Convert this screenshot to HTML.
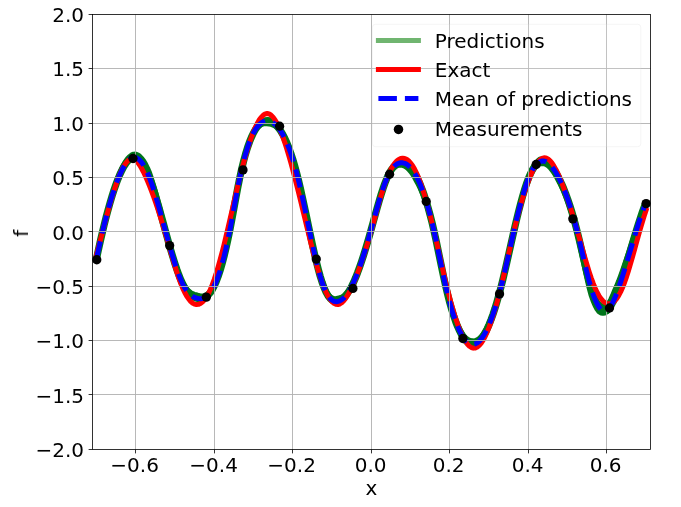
<!DOCTYPE html>
<html><head><meta charset="utf-8"><title>plot</title>
<style>
html,body{margin:0;padding:0;background:#fff;}
body{width:681px;height:507px;overflow:hidden;position:relative;}
svg{position:absolute;left:0;top:0;display:block;}
text{font-family:"DejaVu Sans","Liberation Sans",sans-serif;font-size:20px;fill:#000;}
</style></head><body>
<svg width="681" height="507" viewBox="0 0 681 507">
<rect width="681" height="507" fill="#fff"/>
<defs><clipPath id="ax"><rect x="92.5" y="14.5" width="558.0" height="435.0"/></clipPath><clipPath id="mk"><rect x="92.1" y="14.1" width="558.8" height="435.8"/></clipPath></defs>
<g clip-path="url(#ax)" fill="none" stroke-linejoin="round">
<path d="M96.36,259.41 L98.32,250.19 L100.29,241.29 L102.25,232.73 L104.21,224.53 L106.18,216.70 L108.14,209.26 L110.10,202.22 L112.07,195.61 L114.03,189.25 L116.00,183.34 L117.96,177.90 L119.92,172.96 L121.89,168.53 L123.85,164.64 L125.81,161.32 L127.78,158.59 L129.74,156.49 L131.70,155.04 L133.67,154.26 L135.63,154.20 L137.59,154.86 L139.56,156.20 L141.52,158.22 L143.48,160.88 L145.45,164.19 L147.41,168.11 L149.37,172.63 L151.34,178.45 L153.30,184.78 L155.27,191.54 L157.23,198.64 L159.19,206.02 L161.16,213.58 L163.12,221.24 L165.08,228.94 L167.05,236.20 L169.01,243.17 L170.97,249.95 L172.94,256.48 L174.90,262.69 L176.86,268.51 L178.83,273.88 L180.79,278.73 L182.75,282.98 L184.72,286.33 L186.68,289.01 L188.64,291.10 L190.61,292.66 L192.57,293.76 L194.54,294.47 L196.50,294.87 L198.46,295.61 L200.43,296.05 L202.39,296.12 L204.35,295.77 L206.32,294.94 L208.28,293.57 L210.24,291.61 L212.21,289.00 L214.17,285.68 L216.13,281.31 L218.10,276.19 L220.06,270.30 L222.02,263.67 L223.99,256.28 L225.95,248.15 L227.91,239.27 L229.88,229.65 L231.84,219.39 L233.81,208.77 L235.77,198.11 L237.73,187.72 L239.70,177.94 L241.66,169.01 L243.62,160.98 L245.59,153.82 L247.55,147.47 L249.51,141.91 L251.48,137.10 L253.44,133.00 L255.40,129.37 L257.37,126.39 L259.33,124.00 L261.29,122.17 L263.26,120.87 L265.22,120.05 L267.18,119.69 L269.15,119.85 L271.11,120.57 L273.08,121.70 L275.04,123.26 L277.00,125.26 L278.97,127.73 L280.93,130.66 L282.89,134.09 L284.86,138.02 L286.82,142.24 L288.78,146.99 L290.75,152.30 L292.71,158.17 L294.67,164.63 L296.64,171.69 L298.60,179.44 L300.56,187.87 L302.53,196.74 L304.49,205.93 L306.45,215.30 L308.42,224.74 L310.38,234.11 L312.35,243.28 L314.31,252.14 L316.27,260.55 L318.24,268.40 L320.20,275.57 L322.16,281.92 L324.13,287.34 L326.09,291.33 L328.05,294.39 L330.02,296.60 L331.98,298.01 L333.94,298.72 L335.91,298.77 L337.87,298.24 L339.83,297.94 L341.80,297.13 L343.76,295.83 L345.72,294.03 L347.69,291.74 L349.65,288.96 L351.62,285.70 L353.58,281.98 L355.54,277.80 L357.51,272.85 L359.47,267.52 L361.43,261.83 L363.40,255.83 L365.36,249.53 L367.32,242.98 L369.29,236.20 L371.25,229.23 L373.21,222.13 L375.18,215.00 L377.14,207.97 L379.10,201.14 L381.07,194.62 L383.03,188.53 L384.99,182.97 L386.96,178.07 L388.92,173.90 L390.88,170.47 L392.85,167.73 L394.81,165.63 L396.78,164.13 L398.74,163.20 L400.70,162.77 L402.67,162.80 L404.63,163.28 L406.59,164.23 L408.56,165.66 L410.52,167.56 L412.48,169.95 L414.45,172.84 L416.41,176.23 L418.37,180.14 L420.34,184.56 L422.30,189.51 L424.26,195.01 L426.23,201.06 L428.19,207.68 L430.16,214.86 L432.12,222.64 L434.08,231.01 L436.05,239.96 L438.01,249.31 L439.97,258.85 L441.94,268.37 L443.90,277.64 L445.86,286.46 L447.83,294.65 L449.79,302.20 L451.75,308.85 L453.72,314.86 L455.68,320.23 L457.64,324.97 L459.61,329.08 L461.57,332.57 L463.53,335.44 L465.50,337.69 L467.46,339.34 L469.43,340.38 L471.39,340.81 L473.35,340.96 L475.32,340.73 L477.28,339.91 L479.24,338.53 L481.21,336.57 L483.17,334.06 L485.13,331.00 L487.10,327.40 L489.06,323.26 L491.02,318.60 L492.99,313.43 L494.95,307.74 L496.91,301.56 L498.88,294.63 L500.84,287.22 L502.80,279.35 L504.77,271.09 L506.73,262.55 L508.70,253.83 L510.66,245.05 L512.62,236.30 L514.59,227.71 L516.55,219.34 L518.51,211.29 L520.48,203.63 L522.44,196.42 L524.40,189.74 L526.37,183.67 L528.33,178.28 L530.29,173.30 L532.26,169.07 L534.22,165.57 L536.18,162.77 L538.15,160.65 L540.11,159.17 L542.07,159.04 L544.04,159.51 L546.00,160.55 L547.97,162.14 L549.93,164.23 L551.89,166.81 L553.86,169.45 L555.82,172.51 L557.78,175.96 L559.75,179.79 L561.71,183.97 L563.67,188.54 L565.64,193.50 L567.60,198.87 L569.56,204.66 L571.53,210.89 L573.49,217.58 L575.45,224.73 L577.42,232.37 L579.38,240.47 L581.34,248.86 L583.31,257.34 L585.27,265.71 L587.24,273.79 L589.20,281.37 L591.16,288.26 L593.13,294.31 L595.09,299.50 L597.05,302.19 L599.02,303.95 L600.98,305.36 L602.94,306.18 L604.91,306.30 L606.87,305.57 L608.83,303.11 L610.80,299.69 L612.76,295.45 L614.72,290.48 L616.69,286.14 L618.65,281.32 L620.61,276.13 L622.58,270.66 L624.54,264.95 L626.51,259.17 L628.47,253.28 L630.43,247.33 L632.40,241.37 L634.36,235.46 L636.32,229.58 L638.29,223.50 L640.25,217.64 L642.21,212.07 L644.18,206.83 L646.14,201.99" stroke="#00751a" stroke-width="5.2" stroke-linecap="butt"/>
<path d="M96.36,259.41 L98.32,250.25 L100.29,241.40 L102.25,232.90 L104.21,224.75 L106.18,216.97 L108.14,209.58 L110.10,202.60 L112.07,196.05 L114.03,189.93 L116.00,184.27 L117.96,179.08 L119.92,174.39 L121.89,170.21 L123.85,166.57 L125.81,163.49 L127.78,161.02 L129.74,159.16 L131.70,157.95 L133.67,157.42 L135.63,157.60 L137.59,158.49 L139.56,160.06 L141.52,162.30 L143.48,165.20 L145.45,168.73 L147.41,172.88 L149.37,177.63 L151.34,182.96 L153.30,188.79 L155.27,195.05 L157.23,201.65 L159.19,208.53 L161.16,215.59 L163.12,222.76 L165.08,229.96 L167.05,237.12 L169.01,244.15 L170.97,251.00 L172.94,257.59 L174.90,263.86 L176.86,269.75 L178.83,275.18 L180.79,280.09 L182.75,284.41 L184.72,288.08 L186.68,291.09 L188.64,293.50 L190.61,295.38 L192.57,296.81 L194.54,297.85 L196.50,298.56 L198.46,298.98 L200.43,299.09 L202.39,298.83 L204.35,298.15 L206.32,296.99 L208.28,295.30 L210.24,293.01 L212.21,290.06 L214.17,286.42 L216.13,282.01 L218.10,276.85 L220.06,270.93 L222.02,264.25 L223.99,256.83 L225.95,248.66 L227.91,239.75 L229.88,230.09 L231.84,219.79 L233.81,209.13 L235.77,198.44 L237.73,188.02 L239.70,178.19 L241.66,169.23 L243.62,161.17 L245.59,153.96 L247.55,147.58 L249.51,141.98 L251.48,137.13 L253.44,133.00 L255.40,129.95 L257.37,127.53 L259.33,125.72 L261.29,124.46 L263.26,123.73 L265.22,123.49 L267.18,123.70 L269.15,124.01 L271.11,124.26 L273.08,124.93 L275.04,126.03 L277.00,127.56 L278.97,129.56 L280.93,132.03 L282.89,134.99 L284.86,138.46 L286.82,142.80 L288.78,147.69 L290.75,153.13 L292.71,159.14 L294.67,165.73 L296.64,172.92 L298.60,180.72 L300.56,189.09 L302.53,197.91 L304.49,207.04 L306.45,216.36 L308.42,225.74 L310.38,235.05 L312.35,244.17 L314.31,252.97 L316.27,261.32 L318.24,269.12 L320.20,276.22 L322.16,282.52 L324.13,287.88 L326.09,292.26 L328.05,295.71 L330.02,298.31 L331.98,300.11 L333.94,301.20 L335.91,301.64 L337.87,301.50 L339.83,300.84 L341.80,299.67 L343.76,298.00 L345.72,295.84 L347.69,293.19 L349.65,290.05 L351.62,286.43 L353.58,282.34 L355.54,277.80 L357.51,272.85 L359.47,267.52 L361.43,261.83 L363.40,255.83 L365.36,249.53 L367.32,242.98 L369.29,236.20 L371.25,229.23 L373.21,222.13 L375.18,215.00 L377.14,207.97 L379.10,201.14 L381.07,194.62 L383.03,188.53 L384.99,183.22 L386.96,178.55 L388.92,174.63 L390.88,171.44 L392.85,168.94 L394.81,167.09 L396.78,165.83 L398.74,165.14 L400.70,164.96 L402.67,165.26 L404.63,166.02 L406.59,167.25 L408.56,168.96 L410.52,171.15 L412.48,173.83 L414.45,177.00 L416.41,180.67 L418.37,184.36 L420.34,188.36 L422.30,192.88 L424.26,197.95 L426.23,203.58 L428.19,209.76 L430.16,216.52 L432.12,223.87 L434.08,231.81 L436.05,240.76 L438.01,250.11 L439.97,259.65 L441.94,269.17 L443.90,278.44 L445.86,287.26 L447.83,295.45 L449.79,302.99 L451.75,309.89 L453.72,316.14 L455.68,321.76 L457.64,326.75 L459.61,331.10 L461.57,334.84 L463.53,337.95 L465.50,340.45 L467.46,342.34 L469.43,343.62 L471.39,344.30 L473.35,344.41 L475.32,343.94 L477.28,342.89 L479.24,341.27 L481.21,339.08 L483.17,336.33 L485.13,333.04 L487.10,329.20 L489.06,324.83 L491.02,319.93 L492.99,314.52 L494.95,308.60 L496.91,302.19 L498.88,295.28 L500.84,287.88 L502.80,280.02 L504.77,271.78 L506.73,263.25 L508.70,254.55 L510.66,245.78 L512.62,237.05 L514.59,228.47 L516.55,220.12 L518.51,212.09 L520.48,204.44 L522.44,197.24 L524.40,190.58 L526.37,184.52 L528.33,179.15 L530.29,174.76 L532.26,171.13 L534.22,168.22 L536.18,166.01 L538.15,164.47 L540.11,163.59 L542.07,163.32 L544.04,163.57 L546.00,164.32 L547.97,165.61 L549.93,167.42 L551.89,169.70 L553.86,172.45 L555.82,175.62 L557.78,179.18 L559.75,182.93 L561.71,186.91 L563.67,191.27 L565.64,196.03 L567.60,201.19 L569.56,206.78 L571.53,212.80 L573.49,219.28 L575.45,226.23 L577.42,233.73 L579.38,242.68 L581.34,251.92 L583.31,261.25 L585.27,270.48 L587.24,279.41 L589.20,287.84 L591.16,295.16 L593.13,300.66 L595.09,305.28 L597.05,309.00 L599.02,311.59 L600.98,312.92 L602.94,313.24 L604.91,312.87 L606.87,311.68 L608.83,309.43 L610.80,306.41 L612.76,302.61 L614.72,298.09 L616.69,293.21 L618.65,287.85 L620.61,282.12 L622.58,276.09 L624.54,269.84 L626.51,263.41 L628.47,256.86 L630.43,250.25 L632.40,243.64 L634.36,237.07 L636.32,230.62 L638.29,224.33 L640.25,218.27 L642.21,212.49 L644.18,207.04 L646.14,201.99" stroke="#00751a" stroke-width="5.2" stroke-linecap="butt"/>
<path d="M96.36,259.41 L98.32,250.25 L100.29,241.40 L102.25,232.90 L104.21,224.75 L106.18,216.97 L108.14,209.58 L110.10,202.60 L112.07,196.05 L114.03,189.93 L116.00,184.27 L117.96,179.08 L119.92,174.39 L121.89,170.21 L123.85,166.57 L125.81,163.49 L127.78,161.02 L129.74,159.16 L131.70,157.95 L133.67,157.42 L135.63,157.59 L137.59,158.47 L139.56,160.03 L141.52,162.25 L143.48,165.13 L145.45,168.65 L147.41,172.79 L149.37,177.53 L151.34,182.84 L153.30,188.66 L155.27,194.90 L157.23,201.49 L159.19,208.35 L161.16,215.40 L163.12,222.56 L165.08,229.75 L167.05,236.89 L169.01,243.91 L170.97,250.74 L172.94,257.32 L174.90,263.58 L176.86,269.45 L178.83,274.87 L180.79,279.76 L182.75,284.07 L184.72,287.73 L186.68,290.72 L188.64,293.12 L190.61,294.99 L192.57,296.40 L194.54,297.43 L196.50,298.13 L198.46,298.56 L200.43,298.68 L202.39,298.44 L204.35,297.78 L206.32,296.63 L208.28,294.95 L210.24,292.68 L212.21,289.75 L214.17,286.12 L216.13,281.73 L218.10,276.58 L220.06,270.67 L222.02,264.01 L223.99,256.61 L225.95,248.45 L227.91,239.55 L229.88,229.91 L231.84,219.63 L233.81,208.98 L235.77,198.30 L237.73,187.90 L239.70,178.09 L241.66,169.14 L243.62,161.09 L245.59,153.90 L247.55,147.54 L249.51,141.95 L251.48,137.12 L253.44,133.00 L255.40,129.54 L257.37,126.73 L259.33,124.51 L261.29,122.86 L263.26,121.73 L265.22,121.09 L267.18,120.89 L269.15,121.11 L271.11,121.73 L273.08,122.76 L275.04,124.21 L277.00,126.11 L278.97,128.47 L280.93,131.30 L282.89,134.63 L284.86,138.46 L286.82,142.80 L288.78,147.69 L290.75,153.13 L292.71,159.14 L294.67,165.73 L296.64,172.92 L298.60,180.72 L300.56,189.09 L302.53,197.91 L304.49,207.04 L306.45,216.36 L308.42,225.74 L310.38,235.05 L312.35,244.17 L314.31,252.97 L316.27,261.32 L318.24,269.12 L320.20,276.22 L322.16,282.52 L324.13,287.88 L326.09,292.26 L328.05,295.71 L330.02,298.31 L331.98,300.11 L333.94,301.20 L335.91,301.64 L337.87,301.50 L339.83,300.84 L341.80,299.67 L343.76,298.00 L345.72,295.84 L347.69,293.19 L349.65,290.05 L351.62,286.43 L353.58,282.34 L355.54,277.80 L357.51,272.85 L359.47,267.52 L361.43,261.83 L363.40,255.83 L365.36,249.53 L367.32,242.98 L369.29,236.20 L371.25,229.23 L373.21,222.13 L375.18,215.00 L377.14,207.97 L379.10,201.14 L381.07,194.62 L383.03,188.53 L384.99,182.97 L386.96,178.07 L388.92,173.90 L390.88,170.47 L392.85,167.73 L394.81,165.63 L396.78,164.13 L398.74,163.20 L400.70,162.77 L402.67,162.82 L404.63,163.32 L406.59,164.29 L408.56,165.74 L410.52,167.66 L412.48,170.08 L414.45,172.99 L416.41,176.40 L418.37,180.33 L420.34,184.77 L422.30,189.75 L424.26,195.27 L426.23,201.34 L428.19,207.98 L430.16,215.19 L432.12,222.98 L434.08,231.38 L436.05,240.35 L438.01,249.72 L439.97,259.28 L441.94,268.82 L443.90,278.12 L445.86,286.96 L447.83,295.17 L449.79,302.74 L451.75,309.66 L453.72,315.93 L455.68,321.57 L457.64,326.58 L459.61,330.96 L461.57,334.72 L463.53,337.85 L465.50,340.37 L467.46,342.29 L469.43,343.59 L471.39,344.29 L473.35,344.40 L475.32,343.92 L477.28,342.85 L479.24,341.21 L481.21,339.01 L483.17,336.25 L485.13,332.93 L487.10,329.08 L489.06,324.70 L491.02,319.79 L492.99,314.36 L494.95,308.43 L496.91,301.99 L498.88,295.07 L500.84,287.66 L502.80,279.78 L504.77,271.52 L506.73,262.98 L508.70,254.27 L510.66,245.48 L512.62,236.74 L514.59,228.14 L516.55,219.78 L518.51,211.73 L520.48,204.06 L522.44,196.85 L524.40,190.18 L526.37,184.10 L528.33,178.71 L530.29,174.06 L532.26,170.16 L534.22,166.99 L536.18,164.51 L538.15,162.71 L540.11,161.56 L542.07,161.04 L544.04,161.11 L546.00,161.75 L547.97,162.94 L549.93,164.63 L551.89,166.81 L553.86,169.45 L555.82,172.51 L557.78,175.96 L559.75,179.79 L561.71,183.97 L563.67,188.54 L565.64,193.50 L567.60,198.87 L569.56,204.66 L571.53,210.89 L573.49,217.58 L575.45,224.73 L577.42,232.37 L579.38,240.47 L581.34,248.86 L583.31,257.34 L585.27,265.71 L587.24,273.79 L589.20,281.37 L591.16,288.26 L593.13,294.31 L595.09,299.50 L597.05,303.78 L599.02,307.12 L600.98,309.49 L602.94,310.86 L604.91,311.20 L606.87,310.47 L608.83,308.68 L610.80,305.95 L612.76,302.38 L614.72,298.09 L616.69,293.21 L618.65,287.85 L620.61,282.12 L622.58,276.09 L624.54,269.84 L626.51,263.41 L628.47,256.86 L630.43,250.25 L632.40,243.64 L634.36,237.07 L636.32,230.62 L638.29,224.33 L640.25,218.27 L642.21,212.49 L644.18,207.04 L646.14,201.99" stroke="#00751a" stroke-width="7.2" stroke-linecap="butt"/>
<path d="M96.36,255.28 L98.32,247.85 L100.29,240.34 L102.25,232.80 L104.21,225.31 L106.18,217.92 L108.14,210.70 L110.10,203.70 L112.07,196.98 L114.03,190.62 L116.00,184.66 L117.96,179.17 L119.92,174.22 L121.89,169.85 L123.85,166.13 L125.81,163.11 L127.78,160.85 L129.74,159.40 L131.70,158.83 L133.67,159.16 L135.63,160.37 L137.59,162.35 L139.56,165.01 L141.52,168.27 L143.48,172.03 L145.45,176.20 L147.41,180.71 L149.37,185.50 L151.34,190.57 L153.30,195.89 L155.27,201.46 L157.23,207.27 L159.19,213.30 L161.16,219.53 L163.12,225.96 L165.08,232.57 L167.05,239.33 L169.01,246.16 L170.97,252.96 L172.94,259.66 L174.90,266.15 L176.86,272.35 L178.83,278.17 L180.79,283.52 L182.75,288.31 L184.72,292.48 L186.68,296.04 L188.64,298.98 L190.61,301.30 L192.57,303.00 L194.54,304.08 L196.50,304.53 L198.46,304.35 L200.43,303.54 L202.39,302.08 L204.35,299.98 L206.32,297.23 L208.28,293.81 L210.24,289.73 L212.21,284.97 L214.17,279.56 L216.13,273.55 L218.10,267.00 L220.06,259.98 L222.02,252.54 L223.99,244.76 L225.95,236.69 L227.91,228.39 L229.88,219.94 L231.84,211.41 L233.81,202.88 L235.77,194.41 L237.73,186.10 L239.70,178.00 L241.66,170.20 L243.62,162.74 L245.59,155.66 L247.55,148.99 L249.51,142.78 L251.48,137.06 L253.44,131.86 L255.40,127.24 L257.37,123.22 L259.33,119.84 L261.29,117.15 L263.26,115.17 L265.22,113.95 L267.18,113.53 L269.15,113.94 L271.11,115.16 L273.08,117.16 L275.04,119.88 L277.00,123.29 L278.97,127.33 L280.93,131.96 L282.89,137.13 L284.86,142.81 L286.82,148.93 L288.78,155.47 L290.75,162.37 L292.71,169.58 L294.67,177.07 L296.64,184.78 L298.60,192.67 L300.56,200.70 L302.53,208.81 L304.49,216.96 L306.45,225.10 L308.42,233.19 L310.38,241.17 L312.35,248.97 L314.31,256.52 L316.27,263.74 L318.24,270.56 L320.20,276.90 L322.16,282.69 L324.13,287.85 L326.09,292.34 L328.05,296.14 L330.02,299.24 L331.98,301.63 L333.94,303.31 L335.91,304.26 L337.87,304.48 L339.83,303.96 L341.80,302.71 L343.76,300.78 L345.72,298.24 L347.69,295.15 L349.65,291.56 L351.62,287.55 L353.58,283.17 L355.54,278.46 L357.51,273.42 L359.47,268.08 L361.43,262.45 L363.40,256.55 L365.36,250.39 L367.32,243.99 L369.29,237.36 L371.25,230.52 L373.21,223.51 L375.18,216.42 L377.14,209.36 L379.10,202.44 L381.07,195.75 L383.03,189.40 L384.99,183.49 L386.96,178.13 L388.92,173.40 L390.88,169.32 L392.85,165.89 L394.81,163.10 L396.78,160.94 L398.74,159.40 L400.70,158.48 L402.67,158.16 L404.63,158.44 L406.59,159.33 L408.56,160.81 L410.52,162.89 L412.48,165.58 L414.45,168.86 L416.41,172.75 L418.37,177.24 L420.34,182.32 L422.30,187.97 L424.26,194.14 L426.23,200.79 L428.19,207.88 L430.16,215.37 L432.12,223.23 L434.08,231.40 L436.05,239.84 L438.01,248.47 L439.97,257.17 L441.94,265.84 L443.90,274.39 L445.86,282.71 L447.83,290.70 L449.79,298.30 L451.75,305.48 L453.72,312.21 L455.68,318.45 L457.64,324.18 L459.61,329.38 L461.57,334.00 L463.53,338.02 L465.50,341.42 L467.46,344.16 L469.43,346.21 L471.39,347.54 L473.35,348.13 L475.32,347.95 L477.28,347.04 L479.24,345.40 L481.21,343.08 L483.17,340.09 L485.13,336.47 L487.10,332.23 L489.06,327.42 L491.02,322.04 L492.99,316.13 L494.95,309.72 L496.91,302.83 L498.88,295.49 L500.84,287.72 L502.80,279.56 L504.77,271.10 L506.73,262.45 L508.70,253.74 L510.66,245.07 L512.62,236.55 L514.59,228.32 L516.55,220.42 L518.51,212.89 L520.48,205.74 L522.44,199.00 L524.40,192.67 L526.37,186.78 L528.33,181.34 L530.29,176.38 L532.26,171.91 L534.22,167.98 L536.18,164.63 L538.15,161.89 L540.11,159.82 L542.07,158.44 L544.04,157.81 L546.00,157.96 L547.97,158.89 L549.93,160.56 L551.89,162.91 L553.86,165.87 L555.82,169.38 L557.78,173.37 L559.75,177.80 L561.71,182.60 L563.67,187.75 L565.64,193.21 L567.60,198.97 L569.56,204.99 L571.53,211.25 L573.49,217.72 L575.45,224.39 L577.42,231.21 L579.38,238.16 L581.34,245.16 L583.31,252.13 L585.27,258.96 L587.24,265.58 L589.20,271.88 L591.16,277.79 L593.13,283.20 L595.09,288.04 L597.05,292.24 L599.02,295.80 L600.98,298.71 L602.94,300.98 L604.91,302.60 L606.87,303.57 L608.83,303.89 L610.80,303.56 L612.76,302.56 L614.72,300.90 L616.69,298.57 L618.65,295.56 L620.61,291.88 L622.58,287.52 L624.54,282.48 L626.51,276.83 L628.47,270.68 L630.43,264.14 L632.40,257.30 L634.36,250.27 L636.32,243.17 L638.29,236.09 L640.25,229.14 L642.21,222.43 L644.18,216.07 L646.14,210.15" stroke="#ff0000" stroke-width="5" stroke-linecap="square"/>
<path d="M96.36,259.41 L98.32,250.25 L100.29,241.40 L102.25,232.90 L104.21,224.75 L106.18,216.97 L108.14,209.58 L110.10,202.60 L112.07,196.05 L114.03,189.93 L116.00,184.27 L117.96,179.08 L119.92,174.39 L121.89,170.21 L123.85,166.57 L125.81,163.49 L127.78,161.02 L129.74,159.16 L131.70,157.95 L133.67,157.42 L135.63,157.59 L137.59,158.47 L139.56,160.03 L141.52,162.25 L143.48,165.13 L145.45,168.65 L147.41,172.79 L149.37,177.53 L151.34,182.84 L153.30,188.66 L155.27,194.90 L157.23,201.49 L159.19,208.35 L161.16,215.40 L163.12,222.56 L165.08,229.75 L167.05,236.89 L169.01,243.91 L170.97,250.74 L172.94,257.32 L174.90,263.58 L176.86,269.45 L178.83,274.87 L180.79,279.76 L182.75,284.07 L184.72,287.73 L186.68,290.72 L188.64,293.12 L190.61,294.99 L192.57,296.40 L194.54,297.43 L196.50,298.13 L198.46,298.56 L200.43,298.68 L202.39,298.44 L204.35,297.78 L206.32,296.63 L208.28,294.95 L210.24,292.68 L212.21,289.75 L214.17,286.12 L216.13,281.73 L218.10,276.58 L220.06,270.67 L222.02,264.01 L223.99,256.61 L225.95,248.45 L227.91,239.55 L229.88,229.91 L231.84,219.63 L233.81,208.98 L235.77,198.30 L237.73,187.90 L239.70,178.09 L241.66,169.14 L243.62,161.09 L245.59,153.90 L247.55,147.54 L249.51,141.95 L251.48,137.12 L253.44,133.00 L255.40,129.54 L257.37,126.73 L259.33,124.51 L261.29,122.86 L263.26,121.73 L265.22,121.09 L267.18,120.89 L269.15,121.11 L271.11,121.73 L273.08,122.76 L275.04,124.21 L277.00,126.11 L278.97,128.47 L280.93,131.30 L282.89,134.63 L284.86,138.46 L286.82,142.80 L288.78,147.69 L290.75,153.13 L292.71,159.14 L294.67,165.73 L296.64,172.92 L298.60,180.72 L300.56,189.09 L302.53,197.91 L304.49,207.04 L306.45,216.36 L308.42,225.74 L310.38,235.05 L312.35,244.17 L314.31,252.97 L316.27,261.32 L318.24,269.12 L320.20,276.22 L322.16,282.52 L324.13,287.88 L326.09,292.26 L328.05,295.71 L330.02,298.31 L331.98,300.11 L333.94,301.20 L335.91,301.64 L337.87,301.50 L339.83,300.84 L341.80,299.67 L343.76,298.00 L345.72,295.84 L347.69,293.19 L349.65,290.05 L351.62,286.43 L353.58,282.34 L355.54,277.80 L357.51,272.85 L359.47,267.52 L361.43,261.83 L363.40,255.83 L365.36,249.53 L367.32,242.98 L369.29,236.20 L371.25,229.23 L373.21,222.13 L375.18,215.00 L377.14,207.97 L379.10,201.14 L381.07,194.62 L383.03,188.53 L384.99,182.97 L386.96,178.07 L388.92,173.90 L390.88,170.47 L392.85,167.73 L394.81,165.63 L396.78,164.13 L398.74,163.20 L400.70,162.77 L402.67,162.82 L404.63,163.32 L406.59,164.29 L408.56,165.74 L410.52,167.66 L412.48,170.08 L414.45,172.99 L416.41,176.40 L418.37,180.33 L420.34,184.77 L422.30,189.75 L424.26,195.27 L426.23,201.34 L428.19,207.98 L430.16,215.19 L432.12,222.98 L434.08,231.38 L436.05,240.35 L438.01,249.72 L439.97,259.28 L441.94,268.82 L443.90,278.12 L445.86,286.96 L447.83,295.17 L449.79,302.74 L451.75,309.66 L453.72,315.93 L455.68,321.57 L457.64,326.58 L459.61,330.96 L461.57,334.72 L463.53,337.85 L465.50,340.37 L467.46,342.29 L469.43,343.59 L471.39,344.29 L473.35,344.40 L475.32,343.92 L477.28,342.85 L479.24,341.21 L481.21,339.01 L483.17,336.25 L485.13,332.93 L487.10,329.08 L489.06,324.70 L491.02,319.79 L492.99,314.36 L494.95,308.43 L496.91,301.99 L498.88,295.07 L500.84,287.66 L502.80,279.78 L504.77,271.52 L506.73,262.98 L508.70,254.27 L510.66,245.48 L512.62,236.74 L514.59,228.14 L516.55,219.78 L518.51,211.73 L520.48,204.06 L522.44,196.85 L524.40,190.18 L526.37,184.10 L528.33,178.71 L530.29,174.06 L532.26,170.16 L534.22,166.99 L536.18,164.51 L538.15,162.71 L540.11,161.56 L542.07,161.04 L544.04,161.11 L546.00,161.75 L547.97,162.94 L549.93,164.63 L551.89,166.81 L553.86,169.45 L555.82,172.51 L557.78,175.96 L559.75,179.79 L561.71,183.97 L563.67,188.54 L565.64,193.50 L567.60,198.87 L569.56,204.66 L571.53,210.89 L573.49,217.58 L575.45,224.73 L577.42,232.37 L579.38,240.47 L581.34,248.86 L583.31,257.34 L585.27,265.71 L587.24,273.79 L589.20,281.37 L591.16,288.26 L593.13,294.31 L595.09,299.50 L597.05,303.78 L599.02,307.12 L600.98,309.49 L602.94,310.86 L604.91,311.20 L606.87,310.47 L608.83,308.68 L610.80,305.95 L612.76,302.38 L614.72,298.09 L616.69,293.21 L618.65,287.85 L620.61,282.12 L622.58,276.09 L624.54,269.84 L626.51,263.41 L628.47,256.86 L630.43,250.25 L632.40,243.64 L634.36,237.07 L636.32,230.62 L638.29,224.33 L640.25,218.27 L642.21,212.49 L644.18,207.04 L646.14,201.99" stroke="#0000ff" stroke-width="5" stroke-dasharray="18.5 8" stroke-linecap="butt"/>
</g>
<g stroke="#b0b0b0" stroke-width="0.9" fill="none"><line x1="135.5" x2="135.5" y1="14.5" y2="449.5"/><line x1="214.5" x2="214.5" y1="14.5" y2="449.5"/><line x1="292.5" x2="292.5" y1="14.5" y2="449.5"/><line x1="371.5" x2="371.5" y1="14.5" y2="449.5"/><line x1="449.5" x2="449.5" y1="14.5" y2="449.5"/><line x1="528.5" x2="528.5" y1="14.5" y2="449.5"/><line x1="606.5" x2="606.5" y1="14.5" y2="449.5"/><line x1="92.5" x2="650.5" y1="68.5" y2="68.5"/><line x1="92.5" x2="650.5" y1="123.5" y2="123.5"/><line x1="92.5" x2="650.5" y1="177.5" y2="177.5"/><line x1="92.5" x2="650.5" y1="231.5" y2="231.5"/><line x1="92.5" x2="650.5" y1="286.5" y2="286.5"/><line x1="92.5" x2="650.5" y1="340.5" y2="340.5"/><line x1="92.5" x2="650.5" y1="394.5" y2="394.5"/></g>
<g stroke="#000" stroke-width="0.8"><line x1="135.5" x2="135.5" y1="449.5" y2="453.4"/><line x1="214.5" x2="214.5" y1="449.5" y2="453.4"/><line x1="292.5" x2="292.5" y1="449.5" y2="453.4"/><line x1="371.5" x2="371.5" y1="449.5" y2="453.4"/><line x1="449.5" x2="449.5" y1="449.5" y2="453.4"/><line x1="528.5" x2="528.5" y1="449.5" y2="453.4"/><line x1="606.5" x2="606.5" y1="449.5" y2="453.4"/><line x1="92.5" x2="88.6" y1="14.5" y2="14.5"/><line x1="92.5" x2="88.6" y1="68.5" y2="68.5"/><line x1="92.5" x2="88.6" y1="123.5" y2="123.5"/><line x1="92.5" x2="88.6" y1="177.5" y2="177.5"/><line x1="92.5" x2="88.6" y1="231.5" y2="231.5"/><line x1="92.5" x2="88.6" y1="286.5" y2="286.5"/><line x1="92.5" x2="88.6" y1="340.5" y2="340.5"/><line x1="92.5" x2="88.6" y1="394.5" y2="394.5"/><line x1="92.5" x2="88.6" y1="449.5" y2="449.5"/></g>
<rect x="92.5" y="14.5" width="558.0" height="435.0" fill="none" stroke="#000" stroke-width="0.8"/>
<g fill="#000" clip-path="url(#mk)"><circle cx="96.76" cy="259.74" r="4.65"/><circle cx="133.01" cy="158.49" r="4.65"/><circle cx="169.66" cy="245.60" r="4.65"/><circle cx="206.32" cy="297.15" r="4.65"/><circle cx="242.97" cy="169.91" r="4.65"/><circle cx="279.62" cy="126.20" r="4.65"/><circle cx="316.27" cy="259.09" r="4.65"/><circle cx="352.92" cy="288.45" r="4.65"/><circle cx="389.58" cy="174.26" r="4.65"/><circle cx="426.23" cy="201.45" r="4.65"/><circle cx="462.88" cy="338.48" r="4.65"/><circle cx="499.53" cy="293.89" r="4.65"/><circle cx="536.18" cy="164.48" r="4.65"/><circle cx="572.84" cy="218.85" r="4.65"/><circle cx="609.49" cy="308.02" r="4.65"/><circle cx="646.14" cy="203.62" r="4.65"/></g>
<g opacity="0.999"><text x="134.60" y="472.0" text-anchor="middle">−0.6</text><text x="213.60" y="472.0" text-anchor="middle">−0.4</text><text x="291.60" y="472.0" text-anchor="middle">−0.2</text><text x="370.60" y="472.0" text-anchor="middle">0.0</text><text x="448.60" y="472.0" text-anchor="middle">0.2</text><text x="527.60" y="472.0" text-anchor="middle">0.4</text><text x="605.60" y="472.0" text-anchor="middle">0.6</text><text x="84.0" y="22.00" text-anchor="end">2.0</text><text x="84.0" y="76.38" text-anchor="end">1.5</text><text x="84.0" y="130.75" text-anchor="end">1.0</text><text x="84.0" y="185.12" text-anchor="end">0.5</text><text x="84.0" y="239.50" text-anchor="end">0.0</text><text x="84.0" y="293.88" text-anchor="end">−0.5</text><text x="84.0" y="348.25" text-anchor="end">−1.0</text><text x="84.0" y="402.62" text-anchor="end">−1.5</text><text x="84.0" y="457.00" text-anchor="end">−2.0</text>
<text x="371.5" y="495" text-anchor="middle">x</text><text transform="translate(28,233.40) rotate(-90)" text-anchor="middle">f</text></g>
<rect x="372.4" y="24.3" width="268.4" height="122.39999999999999" rx="3" fill="#fff" fill-opacity="0.15" stroke="#ccc" stroke-opacity="0.25" stroke-width="0.8"/><line x1="375.9" x2="420.9" y1="40.5" y2="40.5" stroke="#70b570" stroke-width="5"/><line x1="375.9" x2="420.9" y1="69.5" y2="69.5" stroke="#ff0000" stroke-width="5"/><line x1="378.4" x2="418.4" y1="98.5" y2="98.5" stroke="#0000ff" stroke-width="5" stroke-dasharray="18.5 8"/><circle cx="398.5" cy="129.4" r="4.75" fill="#000"/><g opacity="0.999"><text x="434.8" y="47.80">Predictions</text><text x="434.8" y="77.00">Exact</text><text x="434.8" y="105.70">Mean of predictions</text><text x="434.8" y="135.50">Measurements</text></g>
</svg></body></html>
